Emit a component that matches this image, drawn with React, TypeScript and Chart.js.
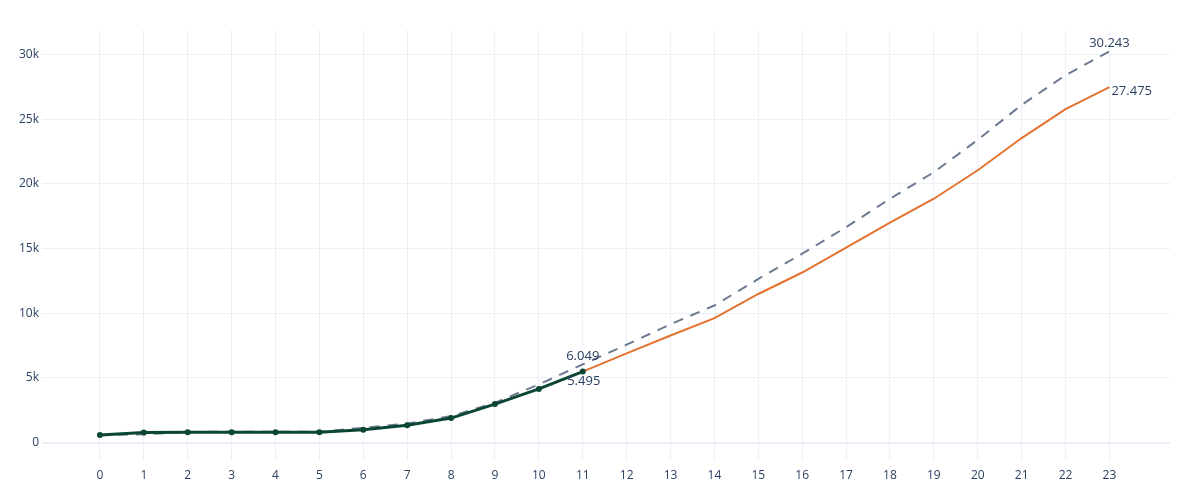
import { useEffect, useRef } from 'react';
import { Chart, registerables } from 'chart.js';

Chart.register(...registerables);

const xValues = [0, 1, 2, 3, 4, 5, 6, 7, 8, 9, 10, 11, 12, 13, 14, 15, 16, 17, 18, 19, 20, 21, 22, 23];
const actual = [600, 790, 800, 810, 810, 810, 1000, 1350, 1900, 2980, 4150, 5495];
const forecastX = [11, 12, 13, 14, 15, 16, 17, 18, 19, 20, 21, 22, 23];
const forecast = [5495, 6900, 8280, 9620, 11490, 13150, 15080, 17000, 18850, 21050, 23540, 25770, 27475];
const reference = [580, 650, 820, 850, 850, 840, 1150, 1480, 2050, 3080, 4500, 6049, 7570, 9150, 10600, 12650, 14600, 16650, 18850, 20900, 23400, 26100, 28400, 30243];
const yTicks = [0, 5000, 10000, 15000, 20000, 25000, 30000];
const xTicks = xValues;

// value labels: dataset index, point index, placement
const valueLabels = [
  { ds: 2, i: 11, pos: 'top' },
  { ds: 0, i: 11, pos: 'bottom' },
  { ds: 2, i: 23, pos: 'top' },
  { ds: 1, i: 12, pos: 'right' },
];

const fmt = (v: number) => String(v).replace(/\B(?=(\d{3})+(?!\d))/g, '.');

const labelPlugin = {
  id: 'valueLabels',
  afterDatasetsDraw(chart: any) {
    const ctx = chart.ctx;
    ctx.save();
    ctx.font = '13px "Open Sans", Verdana, Arial, sans-serif';
    ctx.fillStyle = '#2a3f5f';
    ctx.textBaseline = 'middle';
    valueLabels.forEach((l) => {
      const pt = chart.getDatasetMeta(l.ds).data[l.i];
      const raw = chart.data.datasets[l.ds].data[l.i];
      const text = fmt(raw.y);
      if (l.pos === 'top') {
        ctx.textAlign = 'center';
        ctx.fillText(text, pt.x, pt.y - 8);
      } else if (l.pos === 'bottom') {
        ctx.textAlign = 'center';
        ctx.fillText(text, pt.x + 1, pt.y + 10);
      } else {
        ctx.textAlign = 'left';
        ctx.fillText(text, pt.x + 2, pt.y + 4);
      }
    });
    ctx.restore();
  },
};

export default function App() {
  const chartRef = useRef<HTMLCanvasElement>(null);

  useEffect(() => {
    document.body.style.margin = '0';
    if (!chartRef.current) return;

    const ctx = chartRef.current.getContext('2d');
    const tickFont = { family: '"Open Sans", Verdana, Arial, sans-serif', size: 12 };
    const chartInstance = new Chart(ctx, {
      type: 'line',
      data: {
        datasets: [
          {
            label: 'actual',
            data: actual.map((y, i) => ({ x: xValues[i], y })),
            borderColor: '#0b4634',
            backgroundColor: '#0b4634',
            borderWidth: 3,
            pointRadius: 3,
            pointBorderWidth: 0,
            pointHoverRadius: 3,
            tension: 0,
          },
          {
            label: 'forecast',
            data: forecast.map((y, i) => ({ x: forecastX[i], y })),
            borderColor: '#e4732f',
            borderWidth: 2,
            pointRadius: 0,
            tension: 0,
          },
          {
            label: 'reference',
            data: reference.map((y, i) => ({ x: xValues[i], y })),
            borderColor: '#6c7a91',
            borderWidth: 2,
            borderDash: [10, 8],
            pointRadius: 0,
            tension: 0,
          },
        ],
      },
      options: {
        animation: false,
        responsive: true,
        maintainAspectRatio: false,
        layout: { padding: { top: 30, right: 30, left: 0, bottom: 0 } },
        plugins: { legend: { display: false }, tooltip: { enabled: false } },
        scales: {
          x: {
            type: 'linear',
            min: -1.32,
            max: 24.38,
            afterBuildTicks: (s: any) => {
              s.ticks = xTicks.map((v) => ({ value: v }));
            },
            afterFit: (s: any) => {
              s.height = 40;
            },
            grid: { color: '#EBF0F8', lineWidth: 1, drawTicks: false },
            border: { display: false },
            ticks: { color: '#2a3f5f', font: tickFont, padding: 8, maxRotation: 0 },
          },
          y: {
            type: 'linear',
            min: -1340,
            max: 31890,
            afterBuildTicks: (s: any) => {
              s.ticks = yTicks.map((v) => ({ value: v }));
            },
            afterFit: (s: any) => {
              s.width = 42;
            },
            grid: {
              color: '#EBF0F8',
              lineWidth: (c: any) => (c.tick && c.tick.value === 0 ? 2 : 1),
              drawTicks: false,
            },
            border: { display: false },
            ticks: {
              color: '#2a3f5f',
              font: tickFont,
              padding: 3,
              callback: (v: any) => (v === 0 ? '0' : v / 1000 + 'k'),
            },
          },
        },
      },
      plugins: [labelPlugin],
    });

    return () => {
      chartInstance.destroy();
    };
  }, []);

  return (
    <div style={{ width: 1200, height: 500, position: 'relative', background: '#fff' }}>
      <canvas ref={chartRef}></canvas>
    </div>
  );
}
